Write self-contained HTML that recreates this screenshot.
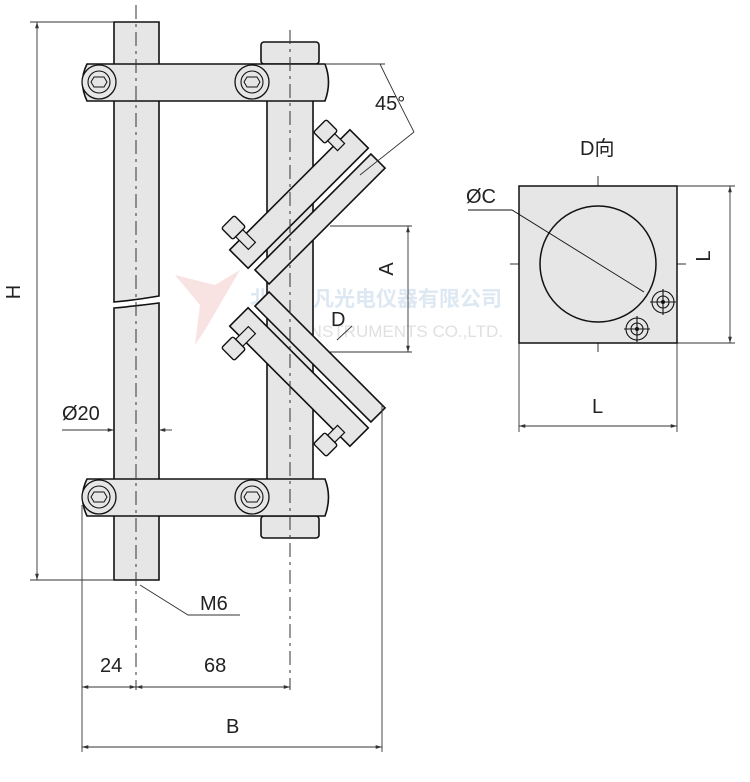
<!DOCTYPE html>
<html><head><meta charset="utf-8"><style>
html,body{margin:0;padding:0;background:#fff;}
svg{display:block;}
text{font-family:"Liberation Sans","Noto Sans CJK SC",sans-serif;fill:#222;}
</style></head><body>
<svg width="750" height="782" viewBox="0 0 750 782" xmlns="http://www.w3.org/2000/svg">
<defs>
<marker id="ar" viewBox="0 0 10 10" refX="10" refY="5" markerWidth="7" markerHeight="7" orient="auto-start-reverse"><path d="M0,2 L10,5 L0,8" fill="#333"/></marker>
<g id="plates">
  <g transform="translate(299,199) rotate(-45)"><rect x="-85" y="-13" width="170" height="26" fill="#e6e6e6" stroke="#111" stroke-width="1.6"/></g>
  <g transform="translate(320,219) rotate(-45)"><rect x="-82" y="-10" width="164" height="20" fill="#e6e6e6" stroke="#111" stroke-width="1.6"/></g>
  <g transform="translate(242,236) rotate(45)"><rect x="-4" y="-5" width="18" height="10" fill="#e6e6e6" stroke="#111" stroke-width="1.2"/><rect x="-20" y="-9" width="16" height="18" rx="2" fill="#e6e6e6" stroke="#111" stroke-width="1.4"/></g>
  <g transform="translate(334,140) rotate(45)"><rect x="-4" y="-5" width="14" height="10" fill="#e6e6e6" stroke="#111" stroke-width="1.2"/><rect x="-20" y="-9" width="16" height="18" rx="2" fill="#e6e6e6" stroke="#111" stroke-width="1.4"/></g>
</g>
</defs>

<text x="250" y="306" font-size="21" font-weight="bold" style="fill:#dde8f2">北京赛凡光电仪器有限公司</text>
<text x="253" y="337" font-size="17" style="fill:#e0e0e0">SOFN INSTRUMENTS CO.,LTD.</text>
<path d="M175,275 L215,285 L240,270 L205,330 L195,345 L200,305 Z" fill="#f8e2e2"/>

<path d="M114,22 L159,22 L159,296 Q136,300 114,302 Z" fill="#e6e6e6" stroke="#111" stroke-width="1.6"/>
<path d="M114,308 Q136,306 159,303 L159,580 L114,580 Z" fill="#e6e6e6" stroke="#111" stroke-width="1.6"/>
<rect x="267" y="64" width="46" height="452" fill="#e6e6e6" stroke="#111" stroke-width="1.6"/>
<rect x="261" y="42" width="58" height="22" rx="3" fill="#e6e6e6" stroke="#111" stroke-width="1.6"/>
<rect x="261" y="516" width="58" height="22" rx="3" fill="#e6e6e6" stroke="#111" stroke-width="1.6"/>

<use href="#plates"/>
<g transform="translate(0,576) scale(1,-1)"><use href="#plates"/></g>

<g id="bar">
<path d="M87,64 L325,64 Q332,82 325,101 L87,101 Q78,82 87,64 Z" fill="#e6e6e6" stroke="#111" stroke-width="1.6"/>
<circle cx="99" cy="82" r="17" fill="#e6e6e6" stroke="#111" stroke-width="1.3"/>
<circle cx="99" cy="82" r="11" fill="none" stroke="#111" stroke-width="1.1"/>
<path d="M94,77 L104,77 L107,82 L104,87 L94,87 L91,82Z" fill="none" stroke="#111"/>
<circle cx="252" cy="82" r="17" fill="#e6e6e6" stroke="#111" stroke-width="1.3"/>
<circle cx="252" cy="82" r="11" fill="none" stroke="#111" stroke-width="1.1"/>
<path d="M247,77 L257,77 L260,82 L257,87 L247,87 L244,82Z" fill="none" stroke="#111"/>
</g>
<use href="#bar" transform="translate(0,415)"/>

<g stroke="#333" stroke-width="1" stroke-dasharray="14,5,3,5" fill="none">
<line x1="136" y1="5" x2="136" y2="690"/>
<line x1="290" y1="30" x2="290" y2="690"/>
<line x1="598" y1="176" x2="598" y2="352"/>
<line x1="510" y1="264" x2="688" y2="264"/>
</g>

<g stroke="#333" stroke-width="0.9" fill="none">
<line x1="30" y1="22" x2="114" y2="22"/>
<line x1="30" y1="580" x2="114" y2="580"/>
<line x1="37" y1="22" x2="37" y2="580" marker-start="url(#ar)" marker-end="url(#ar)"/>
<line x1="325" y1="64" x2="385" y2="64"/>
<path d="M380,64 Q395,95 414,132"/>
<line x1="360" y1="175" x2="414" y2="132"/>
<line x1="330" y1="226" x2="412" y2="226"/>
<line x1="330" y1="352" x2="412" y2="352"/>
<line x1="408" y1="226" x2="408" y2="352" marker-start="url(#ar)" marker-end="url(#ar)"/>
<line x1="337" y1="340" x2="352" y2="326"/>
<line x1="62" y1="430" x2="114" y2="430" marker-end="url(#ar)"/>
<line x1="159" y1="430" x2="172" y2="430" marker-start="url(#ar)"/>
<line x1="82" y1="505" x2="82" y2="752"/>
<line x1="382" y1="405" x2="382" y2="752"/>
<line x1="82" y1="687" x2="136" y2="687" marker-start="url(#ar)" marker-end="url(#ar)"/>
<line x1="136" y1="687" x2="290" y2="687" marker-start="url(#ar)" marker-end="url(#ar)"/>
<line x1="82" y1="747" x2="382" y2="747" marker-start="url(#ar)" marker-end="url(#ar)"/>
<polyline points="140,585 188,615 240,615"/>
<line x1="677" y1="186" x2="735" y2="186"/>
<line x1="677" y1="343" x2="735" y2="343"/>
<line x1="730" y1="186" x2="730" y2="343" marker-start="url(#ar)" marker-end="url(#ar)"/>
<line x1="519" y1="343" x2="519" y2="432"/>
<line x1="677" y1="343" x2="677" y2="432"/>
<line x1="519" y1="426" x2="677" y2="426" marker-start="url(#ar)" marker-end="url(#ar)"/>
</g>

<rect x="519" y="186" width="158" height="157" fill="#e6e6e6" stroke="#111" stroke-width="1.5"/>
<circle cx="598" cy="264" r="58" fill="none" stroke="#111" stroke-width="1.5"/>
<g stroke="#111" fill="none" stroke-width="1.1">
<circle cx="663" cy="302" r="11"/><circle cx="663" cy="302" r="6"/>
<line x1="650" y1="302" x2="676" y2="302"/><line x1="663" y1="289" x2="663" y2="315"/>
<circle cx="637" cy="329" r="11"/><circle cx="637" cy="329" r="6"/>
<line x1="624" y1="329" x2="650" y2="329"/><line x1="637" y1="316" x2="637" y2="342"/>
<polyline points="468,210 512,210 644,292" stroke-width="0.9"/>
</g>
<circle cx="663" cy="302" r="2" fill="#111"/><circle cx="637" cy="329" r="2" fill="#111"/>

<g font-size="20">
<text x="28" y="300" transform="rotate(-90 20 300)" text-anchor="middle">H</text>
<text x="375" y="110">45°</text>
<text x="401" y="277" transform="rotate(-90 393 277)" text-anchor="middle">A</text>
<text x="331" y="326">D</text>
<text x="62" y="420">Ø20</text>
<text x="200" y="610">M6</text>
<text x="100" y="672">24</text>
<text x="204" y="672">68</text>
<text x="226" y="733">B</text>
<text x="580" y="155">D向</text>
<text x="466" y="203">ØC</text>
<text x="718" y="264" transform="rotate(-90 710 264)" text-anchor="middle">L</text>
<text x="592" y="413">L</text>
</g>
</svg>
</body></html>
